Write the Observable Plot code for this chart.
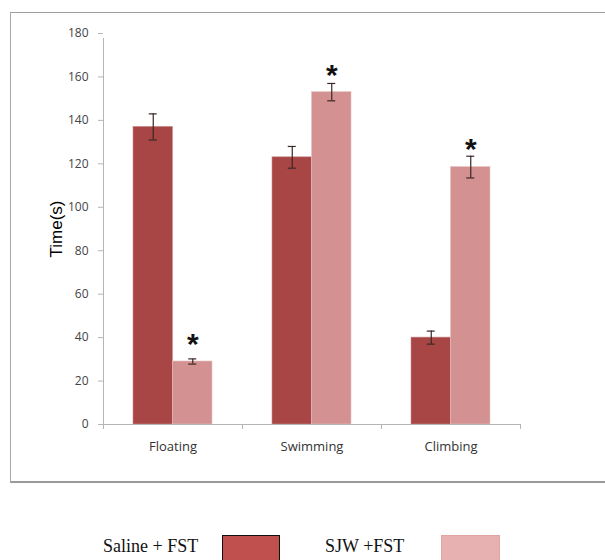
<!DOCTYPE html>
<html><head><meta charset="utf-8">
<script src="https://cdn.jsdelivr.net/npm/d3@7"></script>
<script src="https://cdn.jsdelivr.net/npm/@observablehq/plot@0.6"></script>
<style>
body{margin:0;background:#fff;overflow:hidden;}
#wrap{position:relative;width:605px;height:560px;overflow:hidden;background:#fff;}
#frame{position:absolute;left:10px;top:12px;width:700px;height:468px;border:1px solid #a8a8a8;border-top:1.5px solid #9e9e9e;border-bottom:2px solid #9a9a9a;border-right:none;}
#chart{position:absolute;left:0;top:0;}
.leg{position:absolute;font-family:"Liberation Serif","Times New Roman",serif;font-size:18px;color:#111;top:536px;white-space:nowrap;}
.sw{position:absolute;top:535px;height:30px;box-sizing:border-box;}
</style></head>
<body><div id="wrap"><div id="frame"></div><div id="chart"></div><div id="legend"></div></div>
<script>
const categories = ["Floating", "Swimming", "Climbing"];
const series = ["Saline + FST", "SJW +FST"];
const salineMean = [137, 123, 40];
const salineErr = [6, 5, 3];
const sjwMean = [29, 153, 118.5];
const sjwErr = [1.2, 4, 5];
const starLabels = ["*", "*", "*"];
const starY = [40, 164, 130];
const yTicks = [0, 20, 40, 60, 80, 100, 120, 140, 160, 180];
const barColors = ["#a84646", "#d39191"];
const legendColors = ["#c0504d", "#e6b1b0"];

const W = 605, H = 490, ML = 103, MR = 85, MT = 33, MB = 66;
const BW = (W - ML - MR) / categories.length; // band width
const BAR = 39.5;
const SIDE = (BW - 2 * BAR) / 2;

const saline = categories.map((c, i) => ({category: c, mean: salineMean[i], err: salineErr[i]}));
const sjw = categories.map((c, i) => ({category: c, mean: sjwMean[i], err: sjwErr[i], star: starLabels[i], starY: starY[i]}));

const errMarks = (rows, dx) => [
  Plot.ruleX(rows, {x: "category", y1: d => d.mean - d.err, y2: d => d.mean + d.err, dx, stroke: "#3b2626", strokeWidth: 1.2}),
  Plot.tickY(rows, {x: "category", y: d => d.mean - d.err, dx, insetLeft: BW / 2 - 4, insetRight: BW / 2 - 4, stroke: "#3b2626", strokeWidth: 1.2}),
  Plot.tickY(rows, {x: "category", y: d => d.mean + d.err, dx, insetLeft: BW / 2 - 4, insetRight: BW / 2 - 4, stroke: "#3b2626", strokeWidth: 1.2})
];

const chart = Plot.plot({
  width: W, height: H,
  marginLeft: ML, marginRight: MR, marginTop: MT, marginBottom: MB,
  style: {background: "transparent", fontFamily: "'Open Sans', sans-serif", fontSize: "12px", color: "#444"},
  x: {domain: categories, padding: 0, label: null},
  y: {domain: [0, 180], label: null},
  marks: [
    Plot.barY(saline, {x: "category", y: "mean", fill: barColors[0], insetLeft: SIDE, insetRight: SIDE + BAR, stroke: "#c98a8a", strokeWidth: 0.6}),
    Plot.barY(sjw, {x: "category", y: "mean", fill: barColors[1], insetLeft: SIDE + BAR, insetRight: SIDE, stroke: "#e8c0c0", strokeWidth: 0.6}),
    ...errMarks(saline, -BAR / 2),
    ...errMarks(sjw, BAR / 2),
    Plot.text(sjw, {x: "category", y: "starY", text: "star", dx: BAR / 2, dy: 7, fontSize: 30, fontWeight: "bold", fill: "#111", fontFamily: "'Liberation Sans', sans-serif"}),
    Plot.ruleY([0], {stroke: "#b5b5b5"}),
    Plot.ruleX(categories.slice(0, 1), {x: d => d, y1: 0, y2: 180, dx: -BW / 2, insetBottom: -5, stroke: "#b5b5b5"}),
    Plot.ruleX(categories, {x: d => d, y1: 0, y2: 0, dx: -BW / 2, insetBottom: -5, stroke: "#b5b5b5"}),
    Plot.ruleX(categories.slice(-1), {x: d => d, y1: 0, y2: 0, dx: BW / 2, insetBottom: -5, stroke: "#b5b5b5"}),
    Plot.axisY({ticks: yTicks, tickSize: 5, tickPadding: 10, stroke: "#b5b5b5", fill: "#444", fontSize: 12,
      label: "Time(s)", labelAnchor: "center", labelOffset: 54, labelArrow: "none"}),
    Plot.axisX({tickSize: 0, tickPadding: 17, fill: "#333", fontSize: 13, label: null})
  ]
});
document.getElementById("chart").appendChild(chart);

// style the y label
chart.querySelectorAll("g[aria-label='y-axis label'] text").forEach(t => {
  t.setAttribute("font-size", "17"); t.style.fontFamily = "'Liberation Sans', sans-serif"; t.setAttribute("fill", "#000");
});

const legend = document.getElementById("legend");
const legPos = [{tx: 103, bx: 222, bw: 58, border: "1.5px solid #111"}, {tx: 325, bx: 441, bw: 59, border: "1px solid #e3a5a4"}];
series.forEach((s, i) => {
  const t = document.createElement("div");
  t.className = "leg"; t.textContent = s; t.style.left = legPos[i].tx + "px";
  legend.appendChild(t);
  const b = document.createElement("div");
  b.className = "sw"; b.style.left = legPos[i].bx + "px"; b.style.width = legPos[i].bw + "px";
  b.style.background = legendColors[i]; b.style.border = legPos[i].border;
  legend.appendChild(b);
});
</script>
</body></html>
